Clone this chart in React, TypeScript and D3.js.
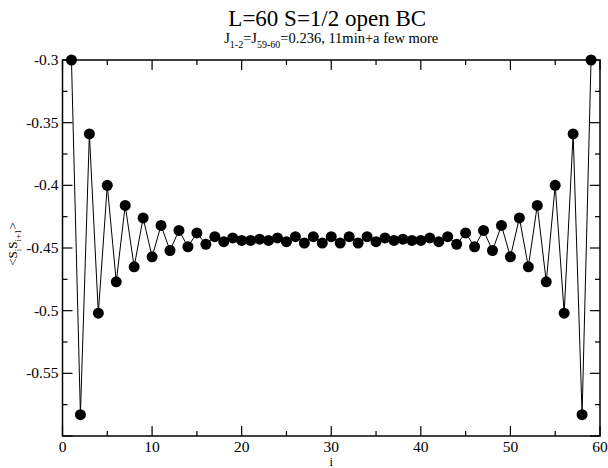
import React, { useEffect, useRef } from "react";
import * as d3 from "d3";

// bond index i = 1..59
const bonds = [
  1, 2, 3, 4, 5, 6, 7, 8, 9, 10, 11, 12, 13, 14, 15, 16, 17, 18, 19, 20,
  21, 22, 23, 24, 25, 26, 27, 28, 29, 30, 31, 32, 33, 34, 35, 36, 37, 38, 39, 40,
  41, 42, 43, 44, 45, 46, 47, 48, 49, 50, 51, 52, 53, 54, 55, 56, 57, 58, 59,
];

// <S_i S_i+1>
const corr = [
  -0.3, -0.583, -0.359, -0.502, -0.4, -0.477, -0.416, -0.465, -0.426, -0.457,
  -0.432, -0.452, -0.436, -0.449, -0.438, -0.447, -0.441, -0.445, -0.442, -0.444,
  -0.444, -0.443, -0.444, -0.442, -0.445, -0.441, -0.446, -0.441, -0.446, -0.441,
  -0.446, -0.441, -0.446, -0.441, -0.445, -0.442, -0.444, -0.443, -0.444, -0.444,
  -0.442, -0.445, -0.441, -0.447, -0.438, -0.449, -0.436, -0.452, -0.432, -0.457,
  -0.426, -0.465, -0.416, -0.477, -0.4, -0.502, -0.359, -0.583, -0.3,
];

const xMajor = [0, 10, 20, 30, 40, 50, 60];
const xMinor = [5, 15, 25, 35, 45, 55];
const yMajor = [-0.3, -0.35, -0.4, -0.45, -0.5, -0.55, -0.6];
const yMinor = [-0.325, -0.375, -0.425, -0.475, -0.525, -0.575];

const W = 608;
const H = 468;
const margin = { top: 60, right: 8, bottom: 32, left: 62.5 };
const font = "'Liberation Serif', 'Times New Roman', serif";

export default function App() {
  const ref = useRef<SVGSVGElement>(null);

  useEffect(() => {
    const svg = d3.select(ref.current);
    svg.selectAll("*").remove();

    const x = d3.scaleLinear().domain([0, 60]).range([margin.left, W - margin.right]);
    const y = d3.scaleLinear().domain([-0.6, -0.3]).range([H - margin.bottom, margin.top]);
    const x0 = x(0), x1 = x(60), y0 = y(-0.6), y1 = y(-0.3);

    svg.append("rect").attr("width", W).attr("height", H).attr("fill", "#fff");

    // frame
    svg.append("rect")
      .attr("x", x0).attr("y", y1)
      .attr("width", x1 - x0).attr("height", y0 - y1)
      .attr("fill", "none").attr("stroke", "#000").attr("stroke-width", 1.5);

    const ticks = svg.append("g").attr("stroke", "#000").attr("stroke-width", 1.2);
    const tickX = (v: number, len: number) => {
      ticks.append("line").attr("x1", x(v)).attr("x2", x(v)).attr("y1", y0).attr("y2", y0 - len);
      ticks.append("line").attr("x1", x(v)).attr("x2", x(v)).attr("y1", y1).attr("y2", y1 + len);
    };
    const tickY = (v: number, len: number) => {
      ticks.append("line").attr("x1", x0).attr("x2", x0 + len).attr("y1", y(v)).attr("y2", y(v));
      ticks.append("line").attr("x1", x1).attr("x2", x1 - len).attr("y1", y(v)).attr("y2", y(v));
    };
    xMajor.forEach((v) => tickX(v, 10));
    xMinor.forEach((v) => tickX(v, 5));
    yMajor.forEach((v) => tickY(v, 10));
    yMinor.forEach((v) => tickY(v, 5));

    // tick labels
    svg.append("g")
      .selectAll("text")
      .data(xMajor)
      .enter()
      .append("text")
      .attr("x", (d) => x(d))
      .attr("y", y0 + 16)
      .attr("text-anchor", "middle")
      .attr("font-family", font)
      .attr("font-size", 15.5)
      .text((d) => String(d));

    svg.append("g")
      .selectAll("text")
      .data(yMajor.filter((d) => d > -0.59))
      .enter()
      .append("text")
      .attr("x", x0 - 4)
      .attr("y", (d) => y(d) + 5)
      .attr("text-anchor", "end")
      .attr("font-family", font)
      .attr("font-size", 15.5)
      .text((d) => String(d));

    // data line + markers
    const pts = bonds.map((b, i) => [b, corr[i]] as [number, number]);
    const line = d3.line<[number, number]>().x((d) => x(d[0])).y((d) => y(d[1]));
    svg.append("path")
      .attr("d", line(pts))
      .attr("fill", "none")
      .attr("stroke", "#000")
      .attr("stroke-width", 1);

    svg.append("g")
      .selectAll("circle")
      .data(pts)
      .enter()
      .append("circle")
      .attr("cx", (d) => x(d[0]))
      .attr("cy", (d) => y(d[1]))
      .attr("r", 5.5)
      .attr("fill", "#000");

    // titles
    const cx = (x0 + x1) / 2;
    svg.append("text")
      .attr("x", cx - 4).attr("y", 26)
      .attr("text-anchor", "middle")
      .attr("font-family", font).attr("font-size", 23)
      .text("L=60 S=1/2 open BC");

    const sub = svg.append("text")
      .attr("x", cx).attr("y", 43)
      .attr("text-anchor", "middle")
      .attr("font-family", font).attr("font-size", 14.5);
    sub.append("tspan").text("J");
    sub.append("tspan").attr("font-size", 10).attr("dy", 5).text("1-2");
    sub.append("tspan").attr("dy", -5).text("=J");
    sub.append("tspan").attr("font-size", 10).attr("dy", 5).text("59-60");
    sub.append("tspan").attr("dy", -5).text("=0.236, 11min+a few more");

    // axis labels
    svg.append("text")
      .attr("x", cx).attr("y", y0 + 30)
      .attr("text-anchor", "middle")
      .attr("font-family", font).attr("font-size", 12.5)
      .text("i");

    const yl = svg.append("text")
      .attr("transform", `translate(17,${(y0 + y1) / 2 - 4}) rotate(-90)`)
      .attr("text-anchor", "middle")
      .attr("font-family", font).attr("font-size", 13);
    yl.append("tspan").text("<S");
    yl.append("tspan").attr("font-size", 9).attr("dy", 4).text("i");
    yl.append("tspan").attr("dy", -4).text("S");
    yl.append("tspan").attr("font-size", 9).attr("dy", 4).text("i+1");
    yl.append("tspan").attr("dy", -4).text(">");
  }, []);

  return (
    <svg
      ref={ref}
      width={W}
      height={H}
      style={{ position: "absolute", left: 0, top: 0, display: "block" }}
    />
  );
}
